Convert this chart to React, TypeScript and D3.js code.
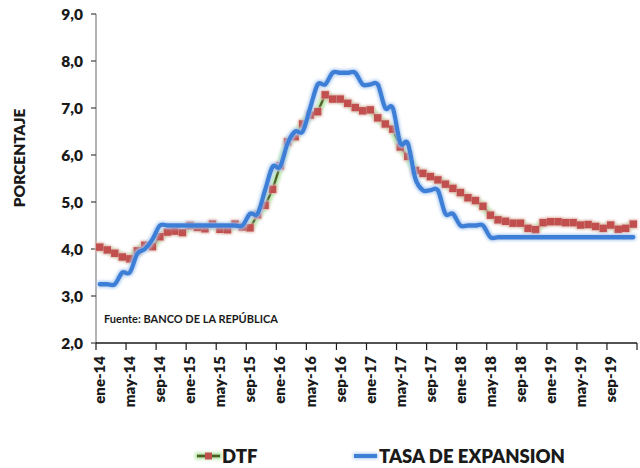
import React from "react";
import * as d3 from "d3";

const monthNames = ["ene", "feb", "mar", "abr", "may", "jun", "jul", "ago", "sep", "oct", "nov", "dic"];
const yearSuffixes = ["14", "15", "16", "17", "18", "19"];
const categories: string[] = yearSuffixes.flatMap((y) => monthNames.map((m) => `${m}-${y}`));

const tickLabels = [
  "ene-14", "may-14", "sep-14", "ene-15", "may-15", "sep-15", "ene-16", "may-16", "sep-16",
  "ene-17", "may-17", "sep-17", "ene-18", "may-18", "sep-18", "ene-19", "may-19", "sep-19",
];

const yTicks = [2, 3, 4, 5, 6, 7, 8, 9];

const dtf = [
  4.04, 3.98, 3.91, 3.83, 3.79, 3.96, 4.08, 4.05, 4.26, 4.36, 4.38, 4.35,
  4.50, 4.46, 4.43, 4.53, 4.42, 4.41, 4.53, 4.47, 4.45, 4.73, 4.93, 5.27,
  5.77, 6.28, 6.39, 6.66, 6.85, 6.92, 7.28, 7.19, 7.19, 7.10, 7.01, 6.94,
  6.96, 6.79, 6.66, 6.55, 6.17, 5.97, 5.67, 5.61, 5.54, 5.47, 5.38, 5.29,
  5.20, 5.09, 5.03, 4.91, 4.72, 4.62, 4.59, 4.55, 4.55, 4.44, 4.41, 4.56,
  4.58, 4.58, 4.56, 4.56, 4.51, 4.52, 4.48, 4.44, 4.51, 4.42, 4.44, 4.53,
];

const tasa = [
  3.25, 3.25, 3.25, 3.5, 3.5, 3.9, 4.0, 4.2, 4.5, 4.5, 4.5, 4.5,
  4.5, 4.5, 4.5, 4.5, 4.5, 4.5, 4.5, 4.5, 4.75, 4.75, 5.25, 5.75,
  5.75, 6.25, 6.5, 6.5, 7.0, 7.5, 7.5, 7.75, 7.75, 7.75, 7.75, 7.5,
  7.5, 7.5, 7.0, 7.0, 6.25, 6.25, 5.5, 5.25, 5.25, 5.25, 4.75, 4.75,
  4.5, 4.5, 4.5, 4.5, 4.25, 4.25, 4.25, 4.25, 4.25, 4.25, 4.25, 4.25,
  4.25, 4.25, 4.25, 4.25, 4.25, 4.25, 4.25, 4.25, 4.25, 4.25, 4.25, 4.25,
];

const FONT = "Lato, 'Open Sans', sans-serif";

export default function App() {
  const W = 640;
  const H = 468;
  const x = d3.scaleBand<string>().domain(categories).range([96, 637]).paddingInner(0).paddingOuter(0);
  const y = d3.scaleLinear().domain([2, 9]).range([343, 14]);
  const bw = x.bandwidth();
  const cx = (c: string) => (x(c) as number) + bw / 2;

  const dtfLine = d3
    .line<number>()
    .x((_, i) => cx(categories[i]))
    .y((d) => y(d))
    .curve(d3.curveLinear);
  const tasaLine = d3
    .line<number>()
    .x((_, i) => cx(categories[i]))
    .y((d) => y(d))
    .curve(d3.curveCardinal.tension(0));

  const tickIdx = categories.map((_, i) => i).filter((i) => i % 4 === 0);
  const x0 = x.range()[0];
  const x1 = x.range()[1];

  const ms = 7.5;

  return (
    <svg width={W} height={H} style={{ position: "absolute", left: 0, top: 0, background: "#fff" }}>
      <defs>
        <filter id="glowB" filterUnits="userSpaceOnUse" x="0" y="0" width={W} height={H}>
          <feMorphology in="SourceAlpha" operator="dilate" radius="1.2" result="d" />
          <feGaussianBlur in="d" stdDeviation="1.6" result="b" />
          <feFlood floodColor="#a9c9f0" floodOpacity="0.95" />
          <feComposite in2="b" operator="in" result="g" />
          <feMerge>
            <feMergeNode in="g" />
            <feMergeNode in="SourceGraphic" />
          </feMerge>
        </filter>
        <filter id="glowG" filterUnits="userSpaceOnUse" x="0" y="0" width={W} height={H}>
          <feMorphology in="SourceAlpha" operator="dilate" radius="1.5" result="d" />
          <feGaussianBlur in="d" stdDeviation="1.6" result="b" />
          <feFlood floodColor="#b5e6a6" floodOpacity="0.95" />
          <feComposite in2="b" operator="in" result="g" />
          <feMerge>
            <feMergeNode in="g" />
            <feMergeNode in="SourceGraphic" />
          </feMerge>
        </filter>
        <filter id="glowR" filterUnits="userSpaceOnUse" x="0" y="0" width={W} height={H}>
          <feMorphology in="SourceAlpha" operator="dilate" radius="0.8" result="d" />
          <feGaussianBlur in="d" stdDeviation="1" result="b" />
          <feFlood floodColor="#eab7b6" floodOpacity="0.9" />
          <feComposite in2="b" operator="in" result="g" />
          <feMerge>
            <feMergeNode in="g" />
            <feMergeNode in="SourceGraphic" />
          </feMerge>
        </filter>
      </defs>

      {/* Y axis */}
      <line x1={x0} x2={x0} y1={y(9)} y2={y(2)} stroke="#8c8c8c" strokeWidth={1.3} />
      {yTicks.map((t) => (
        <g key={t}>
          <line x1={x0 - 5} x2={x0} y1={y(t)} y2={y(t)} stroke="#404040" strokeWidth={1.2} />
          <text
            x={83}
            y={y(t)}
            dy="0.36em"
            textAnchor="end"
            fontFamily={FONT}
            fontWeight={800}
            fontSize={15.5}
            fill="#1a1a1a"
          >
            {t.toFixed(1).replace(".", ",")}
          </text>
        </g>
      ))}
      <text
        transform={`translate(19,158) rotate(-90)`}
        dy="0.36em"
        textAnchor="middle"
        fontFamily={FONT}
        fontWeight={800}
        fontSize={15.5}
        fill="#1a1a1a"
      >
        PORCENTAJE
      </text>

      {/* X axis */}
      <line x1={x0} x2={x1} y1={y(2)} y2={y(2)} stroke="#1a1a1a" strokeWidth={1.3} />
      {tickIdx.concat([categories.length]).map((i) => {
        const xx = i < categories.length ? (x(categories[i]) as number) : x1;
        return <line key={i} x1={xx} x2={xx} y1={y(2)} y2={y(2) + 7} stroke="#1a1a1a" strokeWidth={1.2} />;
      })}
      {tickLabels.map((lab) => (
        <text
          key={lab}
          transform={`translate(${cx(lab)},356) rotate(-90)`}
          dy="0.36em"
          textAnchor="end"
          fontFamily={FONT}
          fontWeight={800}
          fontSize={15}
          fill="#1a1a1a"
        >
          {lab}
        </text>
      ))}

      {/* Source note */}
      <text x={104} y={323} fontFamily={FONT} fontWeight={700} fontSize={11} fill="#1a1a1a">
        Fuente: BANCO DE LA REPÚBLICA
      </text>

      {/* DTF series */}
      <path d={dtfLine(dtf) || ""} fill="none" stroke="#4f6228" strokeWidth={2.5} filter="url(#glowG)" />
      <g filter="url(#glowR)">
        {dtf.map((v, i) => (
          <rect
            key={i}
            x={cx(categories[i]) - ms / 2}
            y={y(v) - ms / 2}
            width={ms}
            height={ms}
            fill="#c0504d"
          />
        ))}
      </g>

      {/* Tasa de expansion */}
      <path
        d={tasaLine(tasa) || ""}
        fill="none"
        stroke="#3d7fd6"
        strokeWidth={4.3}
        strokeLinejoin="round"
        strokeLinecap="round"
        filter="url(#glowB)"
      />

      {/* Legend */}
      <line x1={197} x2={220} y1={456} y2={456} stroke="#4f6228" strokeWidth={3} filter="url(#glowG)" />
      <rect x={208.5 - 3.5} y={456 - 3.5} width={7} height={7} fill="#c0504d" />
      <text x={222} y={456} dy="0.36em" fontFamily={FONT} fontWeight={800} fontSize={18.5} fill="#1a1a1a">
        DTF
      </text>
      <line x1={354} x2={377} y1={456} y2={456} stroke="#3d7fd6" strokeWidth={4} filter="url(#glowB)" />
      <text x={379} y={456} dy="0.36em" fontFamily={FONT} fontWeight={800} fontSize={18.5} fill="#1a1a1a">
        TASA DE EXPANSION
      </text>
    </svg>
  );
}
